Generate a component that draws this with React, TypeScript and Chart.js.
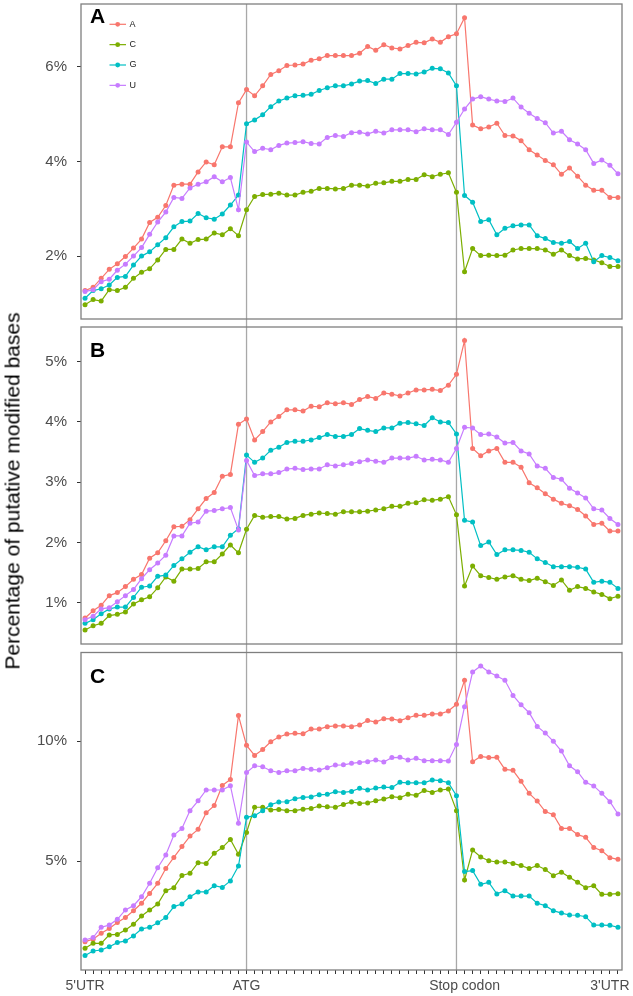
import React, { useEffect, useRef } from 'react';
import { Chart, registerables } from 'chart.js';

Chart.register(...registerables);

const FONT = "'Liberation Sans', Arial, Helvetica, sans-serif";

// ---- categories / ticks ----
const bases = ['A', 'C', 'G', 'U'];
const baseColors = ['#F8766D', '#7CAE00', '#00BFC4', '#C77CFF'];
const binCount = 67;
const landmarkTickIndex = [0, 20, 47, 65];
const landmarkTickLabels = ["5'UTR", 'ATG', 'Stop codon', "3'UTR"];
const boundaryLineIndex = [20, 46];
const yTicksA = [2, 4, 6];
const yTicksB = [1, 2, 3, 4, 5];
const yTicksC = [5, 10];
const yTitle = 'Percentage of putative modified bases';

// ---- panel A ----
const panelA_A = [1.27,1.34,1.53,1.72,1.84,1.99,2.17,2.36,2.71,2.82,3.07,3.50,3.52,3.52,3.78,3.99,3.93,4.31,4.31,5.24,5.52,5.39,5.60,5.84,5.92,6.03,6.04,6.06,6.14,6.17,
  6.24,6.24,6.24,6.24,6.29,6.43,6.35,6.47,6.40,6.38,6.45,6.52,6.51,6.59,6.52,6.64,6.70,
  7.04,4.77,4.69,4.73,4.81,4.55,4.54,4.44,4.25,4.14,4.02,3.93,3.73,3.86,3.69,3.50,3.39,3.39,3.24,3.24];
const panelA_C = [0.97,1.08,1.05,1.29,1.27,1.34,1.53,1.66,1.73,1.92,2.14,2.14,2.36,2.27,2.35,2.36,2.49,2.45,2.58,2.43,2.98,3.26,3.30,3.31,3.33,3.29,3.29,3.35,3.37,3.43,
  3.43,3.42,3.43,3.50,3.50,3.48,3.54,3.55,3.58,3.58,3.62,3.62,3.72,3.68,3.73,3.76,3.35,
  1.67,2.16,2.01,2.02,2.01,2.02,2.13,2.16,2.16,2.16,2.13,2.04,2.13,2.01,1.94,1.95,1.92,1.86,1.78,1.78];
const panelA_G = [1.11,1.27,1.31,1.39,1.55,1.57,1.81,2.00,2.09,2.24,2.39,2.62,2.73,2.74,2.90,2.81,2.78,2.89,3.08,3.29,4.80,4.88,4.99,5.16,5.28,5.34,5.39,5.40,5.42,5.50,
  5.56,5.60,5.60,5.64,5.70,5.71,5.65,5.74,5.74,5.86,5.86,5.85,5.89,5.97,5.96,5.87,5.60,
  3.28,3.14,2.73,2.77,2.45,2.59,2.64,2.66,2.66,2.43,2.37,2.29,2.27,2.31,2.16,2.27,1.88,2.01,1.97,1.90];
const panelA_U = [1.25,1.29,1.46,1.51,1.70,1.83,2.00,2.18,2.46,2.72,2.93,3.24,3.22,3.44,3.52,3.57,3.68,3.57,3.66,2.98,4.41,4.21,4.28,4.25,4.34,4.39,4.40,4.42,4.38,4.37,
  4.51,4.55,4.53,4.61,4.62,4.58,4.64,4.60,4.67,4.67,4.67,4.63,4.69,4.67,4.67,4.57,4.83,
  5.11,5.32,5.37,5.32,5.28,5.27,5.34,5.15,5.02,4.91,4.82,4.60,4.64,4.46,4.37,4.25,3.96,4.03,3.92,3.74];

// ---- panel B ----
const panelB_A = [0.75,0.87,0.96,1.12,1.17,1.27,1.39,1.47,1.74,1.83,2.03,2.26,2.27,2.38,2.56,2.73,2.83,3.10,3.13,3.96,4.05,3.70,3.84,4.00,4.09,4.20,4.20,4.18,4.26,4.25,
  4.32,4.30,4.32,4.29,4.37,4.42,4.39,4.48,4.46,4.43,4.48,4.53,4.53,4.54,4.52,4.61,4.79,
  5.35,3.56,3.44,3.52,3.56,3.33,3.33,3.25,2.99,2.91,2.81,2.72,2.65,2.61,2.55,2.44,2.30,2.32,2.19,2.19];
const panelB_C = [0.55,0.62,0.66,0.79,0.81,0.85,0.98,1.05,1.10,1.25,1.43,1.36,1.56,1.56,1.57,1.68,1.68,1.81,1.96,1.83,2.22,2.45,2.42,2.43,2.43,2.39,2.40,2.45,2.47,2.49,
  2.48,2.47,2.51,2.51,2.51,2.52,2.54,2.56,2.60,2.60,2.65,2.66,2.71,2.70,2.72,2.76,2.46,
  1.28,1.61,1.45,1.42,1.39,1.43,1.45,1.39,1.37,1.41,1.35,1.29,1.38,1.21,1.27,1.24,1.18,1.14,1.07,1.11];
const panelB_G = [0.66,0.72,0.82,0.90,0.93,0.93,1.09,1.26,1.28,1.44,1.46,1.62,1.73,1.84,1.93,1.88,1.93,1.93,2.12,2.23,3.45,3.33,3.40,3.53,3.58,3.66,3.68,3.68,3.70,3.74,
  3.79,3.76,3.76,3.79,3.89,3.86,3.84,3.90,3.90,3.98,3.99,3.97,3.94,4.07,4.00,3.99,3.80,
  2.37,2.34,1.95,2.01,1.80,1.88,1.88,1.87,1.84,1.73,1.67,1.60,1.60,1.60,1.59,1.56,1.34,1.36,1.34,1.24];
const panelB_U = [0.72,0.78,0.90,0.92,1.02,1.12,1.22,1.40,1.55,1.66,1.79,2.11,2.11,2.32,2.34,2.52,2.53,2.56,2.58,2.21,3.36,3.11,3.14,3.14,3.16,3.22,3.23,3.21,3.22,3.22,
  3.29,3.27,3.29,3.31,3.34,3.37,3.35,3.33,3.40,3.40,3.40,3.43,3.37,3.38,3.37,3.33,3.56,
  3.91,3.90,3.79,3.80,3.75,3.65,3.66,3.52,3.47,3.27,3.23,3.08,3.05,2.90,2.82,2.74,2.56,2.54,2.40,2.30];

// ---- panel C ----
const panelC_A = [1.64,1.74,1.99,2.19,2.44,2.65,2.93,3.24,3.65,4.07,4.69,5.15,5.60,6.04,6.32,7.01,7.31,8.15,8.40,11.06,9.82,9.40,9.65,9.97,10.17,10.29,10.32,10.30,10.50,10.50,
  10.60,10.63,10.63,10.60,10.67,10.86,10.79,10.93,10.92,10.85,10.97,11.07,11.07,11.13,11.13,11.25,11.53,
  12.53,9.14,9.36,9.31,9.32,8.82,8.78,8.32,7.82,7.50,7.06,6.93,6.36,6.36,6.10,5.99,5.56,5.43,5.14,5.07];
const panelC_C = [1.36,1.57,1.57,1.92,1.94,2.13,2.36,2.71,2.96,3.21,3.76,3.89,4.40,4.49,4.93,4.90,5.32,5.56,5.90,5.28,6.19,7.24,7.24,7.13,7.15,7.10,7.10,7.16,7.19,7.29,
  7.26,7.24,7.36,7.46,7.40,7.42,7.51,7.58,7.68,7.64,7.78,7.74,7.94,7.86,7.96,8.00,7.10,
  4.21,5.46,5.17,5.01,4.96,4.96,4.90,4.81,4.69,4.81,4.65,4.39,4.53,4.32,4.11,3.89,3.97,3.61,3.62,3.64];
const panelC_G = [1.06,1.25,1.29,1.43,1.60,1.67,1.88,2.17,2.24,2.43,2.65,3.10,3.21,3.51,3.71,3.71,3.97,3.90,4.17,4.79,6.82,6.89,7.10,7.35,7.46,7.47,7.60,7.65,7.67,7.76,
  7.78,7.89,7.86,7.90,8.03,7.96,8.04,8.08,8.06,8.28,8.26,8.26,8.26,8.38,8.35,8.26,7.72,
  4.56,4.60,4.03,4.11,3.63,3.76,3.54,3.54,3.54,3.24,3.14,2.93,2.83,2.75,2.74,2.68,2.33,2.33,2.32,2.24];
const panelC_U = [1.71,1.81,2.24,2.33,2.57,2.96,3.14,3.51,4.07,4.72,5.25,6.08,6.36,7.10,7.51,7.96,7.96,7.96,8.14,6.57,8.69,8.97,8.93,8.76,8.69,8.76,8.76,8.86,8.82,8.79,
  8.89,9.00,9.01,9.07,9.11,9.14,9.21,9.13,9.31,9.32,9.21,9.28,9.18,9.18,9.18,9.17,9.86,
  11.43,12.88,13.13,12.88,12.71,12.53,11.90,11.51,11.18,10.61,10.33,9.99,9.58,8.97,8.72,8.28,8.13,7.82,7.47,6.96];

const categories = Array.from({ length: binCount }, (_, i) => {
  const k = landmarkTickIndex.indexOf(i);
  return k >= 0 ? landmarkTickLabels[k] : '';
});

const decoPlugin = {
  id: 'deco',
  beforeDatasetsDraw(chart: any, _a: any, opts: any) {
    const { ctx, chartArea } = chart;
    const xs = chart.scales.x;
    ctx.save();
    ctx.strokeStyle = '#A8A8A8';
    ctx.lineWidth = 1.3;
    const y0 = opts.lineFromCanvasTop ? 0 : chartArea.top;
    const y1 = opts.lineToCanvasBottom ? chart.height : chartArea.bottom;
    boundaryLineIndex.forEach((i) => {
      const x = xs.getPixelForValue(i);
      ctx.beginPath();
      ctx.moveTo(x, y0);
      ctx.lineTo(x, y1);
      ctx.stroke();
    });
    ctx.restore();
  },
  afterDraw(chart: any, _a: any, opts: any) {
    const { ctx, chartArea } = chart;
    ctx.save();
    ctx.strokeStyle = '#7F7F7F';
    ctx.lineWidth = 1.3;
    ctx.strokeRect(chartArea.left, chartArea.top, chartArea.right - chartArea.left, chartArea.bottom - chartArea.top);
    ctx.fillStyle = '#000';
    ctx.font = `bold 21px ${FONT}`;
    ctx.textAlign = 'left';
    ctx.textBaseline = 'alphabetic';
    ctx.fillText(opts.label, chartArea.left + 9, opts.labelBaseline);
    if (opts.legend) {
      chart.data.datasets.forEach((ds: any, k: number) => {
        const y = opts.legendTop + k * opts.legendStep;
        const lx = chartArea.left + 28.5;
        ctx.strokeStyle = ds.borderColor;
        ctx.lineWidth = 1.2;
        ctx.beginPath();
        ctx.moveTo(lx, y);
        ctx.lineTo(lx + 16.5, y);
        ctx.stroke();
        ctx.fillStyle = ds.borderColor;
        ctx.beginPath();
        ctx.arc(lx + 8.2, y, 2.4, 0, Math.PI * 2);
        ctx.fill();
        ctx.fillStyle = '#1A1A1A';
        ctx.font = `9px ${FONT}`;
        ctx.textBaseline = 'middle';
        ctx.fillText(ds.label, lx + 20, y);
      });
    }
    ctx.restore();
  },
};

function makeConfig(p: any) {
  const seriesList = p.series;
  return {
    type: 'line',
    data: {
      labels: categories,
      datasets: bases.map((b, k) => ({
        label: b,
        data: seriesList[k],
        borderColor: baseColors[k],
        backgroundColor: baseColors[k],
        pointBackgroundColor: baseColors[k],
        pointBorderWidth: 0,
        pointRadius: 2.5,
        borderWidth: 1.2,
        tension: 0,
        fill: false,
        order: bases.length - 1 - k,
      })),
    },
    options: {
      animation: false,
      responsive: false,
      maintainAspectRatio: false,
      layout: { padding: { top: p.padTop, bottom: p.padBottom, left: 0, right: 11 } },
      plugins: {
        legend: { display: false },
        tooltip: { enabled: false },
        deco: {
          label: p.label,
          labelBaseline: p.labelBaseline,
          legend: !!p.legend,
          legendTop: 24.3,
          legendStep: 20.35,
          lineFromCanvasTop: p.lineFromCanvasTop,
          lineToCanvasBottom: p.lineToCanvasBottom,
        },
      },
      scales: {
        x: {
          type: 'category',
          offset: true,
          display: p.showX,
          grid: { display: true, drawOnChartArea: false, drawTicks: true, tickLength: 4, color: '#333333', offset: false },
          border: { display: false },
          ticks: {
            autoSkip: false,
            maxRotation: 0,
            minRotation: 0,
            color: '#4D4D4D',
            font: { family: FONT, size: 14 },
            padding: 4,
          },
          afterFit: (s: any) => {
            s.height = p.showX ? 26 : 0;
            s.paddingLeft = 0;
            s.paddingRight = 0;
          },
        },
        y: {
          type: 'linear',
          min: p.yMin,
          max: p.yMax,
          afterBuildTicks: (s: any) => {
            s.ticks = p.yTicks.map((v: number) => ({ value: v }));
          },
          afterFit: (s: any) => {
            s.width = 81;
            s.paddingTop = 0;
            s.paddingBottom = 0;
          },
          grid: { display: true, drawOnChartArea: false, drawTicks: true, tickLength: 4, color: '#333333' },
          border: { display: false },
          ticks: {
            color: '#4D4D4D',
            font: { family: FONT, size: 15 },
            padding: 10,
            callback: (v: any) => `${v}%`,
          },
        },
      },
    },
    plugins: [decoPlugin],
  };
}

const panels = [
  { top: 0, height: 323, padTop: 1.5, padBottom: 3.5, showX: false, yMin: 0.67, yMax: 7.33, yTicks: yTicksA,
    series: [panelA_A, panelA_C, panelA_G, panelA_U], label: 'A', labelBaseline: 23.3, legend: true,
    lineFromCanvasTop: false, lineToCanvasBottom: true },
  { top: 323, height: 325, padTop: 4, padBottom: 3.5, showX: false, yMin: 0.318, yMax: 5.574, yTicks: yTicksB,
    series: [panelB_A, panelB_C, panelB_G, panelB_U], label: 'B', labelBaseline: 34.3, legend: false,
    lineFromCanvasTop: true, lineToCanvasBottom: true },
  { top: 648, height: 348, padTop: 4.5, padBottom: 0, showX: true, yMin: 0.458, yMax: 13.69, yTicks: yTicksC,
    series: [panelC_A, panelC_C, panelC_G, panelC_U], label: 'C', labelBaseline: 35, legend: false,
    lineFromCanvasTop: true, lineToCanvasBottom: false },
];

export default function App() {
  const refA = useRef<HTMLCanvasElement>(null);
  const refB = useRef<HTMLCanvasElement>(null);
  const refC = useRef<HTMLCanvasElement>(null);

  useEffect(() => {
    const refs = [refA, refB, refC];
    const charts = panels.map((p, i) => new Chart(refs[i].current as any, makeConfig(p) as any));
    return () => charts.forEach((c) => c.destroy());
  }, []);

  const refs = [refA, refB, refC];
  return (
    <div style={{ position: 'fixed', left: 0, top: 0, width: 633, height: 996, background: '#fff', overflow: 'hidden' }}>
      {panels.map((p, i) => (
        <canvas
          key={i}
          ref={refs[i]}
          width={633}
          height={p.height}
          style={{ position: 'absolute', left: 0, top: p.top, width: 633, height: p.height, display: 'block' }}
        />
      ))}
      <div
        style={{
          position: 'absolute',
          left: 12,
          top: 491,
          transform: 'translate(-50%, -50%) rotate(-90deg)',
          font: `21px ${FONT}`,
          lineHeight: '21px',
          whiteSpace: 'nowrap',
          color: '#000',
        }}
      >
        {yTitle}
      </div>
    </div>
  );
}
